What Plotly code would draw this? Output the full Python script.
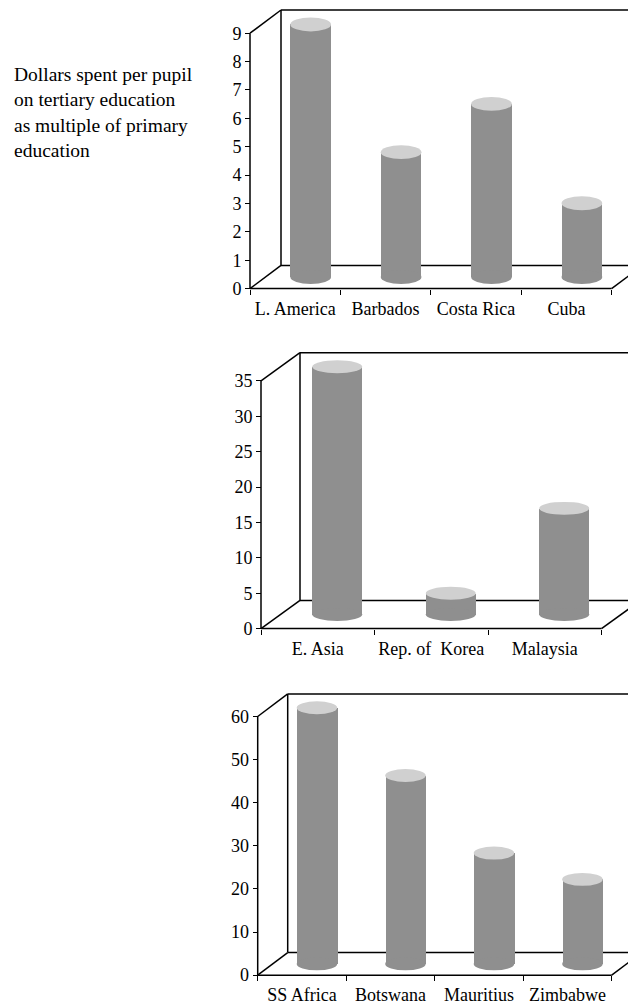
import plotly.graph_objects as go

# ---- data ----
cats1 = ["L. America", "Barbados", "Costa Rica", "Cuba"]
vals1 = [8.9, 4.4, 6.1, 2.6]
yticks1 = [0, 1, 2, 3, 4, 5, 6, 7, 8, 9]

cats2 = ["E. Asia", "Rep. of\u00a0 Korea", "Malaysia"]
vals2 = [35, 3, 15]
yticks2 = [0, 5, 10, 15, 20, 25, 30, 35]

cats3 = ["SS Africa", "Botswana", "Mauritius", "Zimbabwe"]
vals3 = [59.4, 43.7, 25.7, 19.6]
yticks3 = [0, 10, 20, 30, 40, 50, 60]

title_text = "Dollars spent per pupil<br>on tertiary education<br>as multiple of primary<br>education"

# ---- layout geometry (page pixels; the page body has an 8px margin) ----
W, H = 636, 1008
OFF = 8
FONT = "Liberation Serif, Times New Roman, serif"
BODY = "#8f8f8f"
TOP = "#d0d0d0"

panels = [
    dict(cats=cats1, vals=vals1, ticks=yticks1, ox=250, oy=290, cw=90.4, upx=28.52, dxp=31, dyp=23.3, bw=40.7, eh=14),
    dict(cats=cats2, vals=vals2, ticks=yticks2, ox=261, oy=631.7, cw=113.5, upx=7.114, dxp=39, dyp=28.3, bw=50, eh=13),
    dict(cats=cats3, vals=vals3, ticks=yticks3, ox=257.7, oy=980, cw=88.5, upx=4.333, dxp=30, dyp=22.7, bw=40.5, eh=13),
]

fig = go.Figure()
shapes = []
layout = {}
pad = 5

for k, p in enumerate(panels, start=1):
    xa = "x" if k == 1 else f"x{k}"
    ya = "y" if k == 1 else f"y{k}"
    xkey = "xaxis" if k == 1 else f"xaxis{k}"
    ykey = "yaxis" if k == 1 else f"yaxis{k}"
    ox = p["ox"] - OFF
    oy = p["oy"] - OFF
    n = len(p["cats"])
    ymaxf = max(p["ticks"])
    dxc = p["dxp"] / p["cw"]          # depth offset in category units
    dyv = p["dyp"] / p["upx"]         # depth offset in value units
    xmin = -0.5 - pad / p["cw"]
    xmax = -0.5 + (W - ox) / p["cw"]
    ymin = -pad / p["upx"]
    topline_px = oy - (ymaxf * p["upx"] + p["dyp"])
    top_px = max(0.0, topline_px - pad)
    ytop = ymaxf + dyv + (topline_px - top_px) / p["upx"]
    bot_px = oy + pad

    layout[xkey] = dict(
        domain=[(ox - pad) / W, 1], range=[xmin, xmax],
        anchor="free", position=(H - oy) / H,
        tickvals=list(range(n)), ticktext=p["cats"], ticks="", ticklabelstandoff=7,
        showgrid=False, zeroline=False, showline=False,
        tickfont=dict(family=FONT, size=18, color="black"),
        minor=dict(tickvals=[i - 0.5 for i in range(n + 1)], ticks="outside", ticklen=5,
                   tickcolor="black", tickwidth=1, showgrid=False),
        fixedrange=True,
    )
    layout[ykey] = dict(
        domain=[(H - bot_px) / H, min(1.0, (H - top_px) / H)], range=[ymin, ytop],
        anchor="free", position=ox / W,
        tickvals=p["ticks"], ticks="outside", ticklen=5, tickcolor="black", tickwidth=1,
        showgrid=False, zeroline=False, showline=False,
        tickfont=dict(family=FONT, size=18, color="black"), fixedrange=True,
    )

    ln = dict(color="black", width=1.5)
    segs = [
        (-0.5, 0, n - 0.5, 0),
        (n - 0.5, 0, n - 0.5 + dxc, dyv),
        (-0.5 + dxc, dyv, xmax + 1, dyv),
        (-0.5, 0, -0.5 + dxc, dyv),
        (-0.5, 0, -0.5, ymaxf),
        (-0.5, ymaxf, -0.5 + dxc, ymaxf + dyv),
        (-0.5 + dxc, dyv, -0.5 + dxc, ymaxf + dyv),
        (-0.5 + dxc, ymaxf + dyv, xmax + 1, ymaxf + dyv),
    ]
    for (x0, y0, x1, y1) in segs:
        shapes.append(dict(type="line", xref=xa, yref=ya, x0=x0, y0=y0, x1=x1, y1=y1,
                           line=ln, layer="below"))

    centers = [i + dxc / 2 for i in range(n)]
    wc = p["bw"] / p["cw"]
    ehv = p["eh"] / p["upx"]
    fig.add_trace(go.Bar(
        x=centers, y=p["vals"], base=dyv / 2, width=wc, xaxis=xa, yaxis=ya,
        marker=dict(color=BODY, line=dict(width=0)), showlegend=False, hoverinfo="skip",
    ))
    for c, v in zip(centers, p["vals"]):
        shapes.append(dict(type="circle", xref=xa, yref=ya, x0=c - wc / 2, x1=c + wc / 2,
                           y0=dyv / 2 - ehv / 2, y1=dyv / 2 + ehv / 2,
                           fillcolor=BODY, line=dict(width=0), layer="above"))
        shapes.append(dict(type="circle", xref=xa, yref=ya, x0=c - wc / 2, x1=c + wc / 2,
                           y0=v + dyv / 2 - ehv / 2, y1=v + dyv / 2 + ehv / 2,
                           fillcolor=TOP, line=dict(width=0), layer="above"))

fig.update_layout(
    width=W, height=H, margin=dict(l=0, r=0, t=0, b=0),
    paper_bgcolor="white", plot_bgcolor="rgba(0,0,0,0)",
    shapes=shapes, showlegend=False, bargap=0,
    annotations=[dict(text=title_text, xref="paper", yref="paper", x=(12 - OFF) / W,
                      y=1 - (62 - OFF) / H,
                      xanchor="left", yanchor="top", align="left", showarrow=False,
                      font=dict(family=FONT, size=19.5, color="black"))],
    **layout,
)

fig.write_html("out.html")
